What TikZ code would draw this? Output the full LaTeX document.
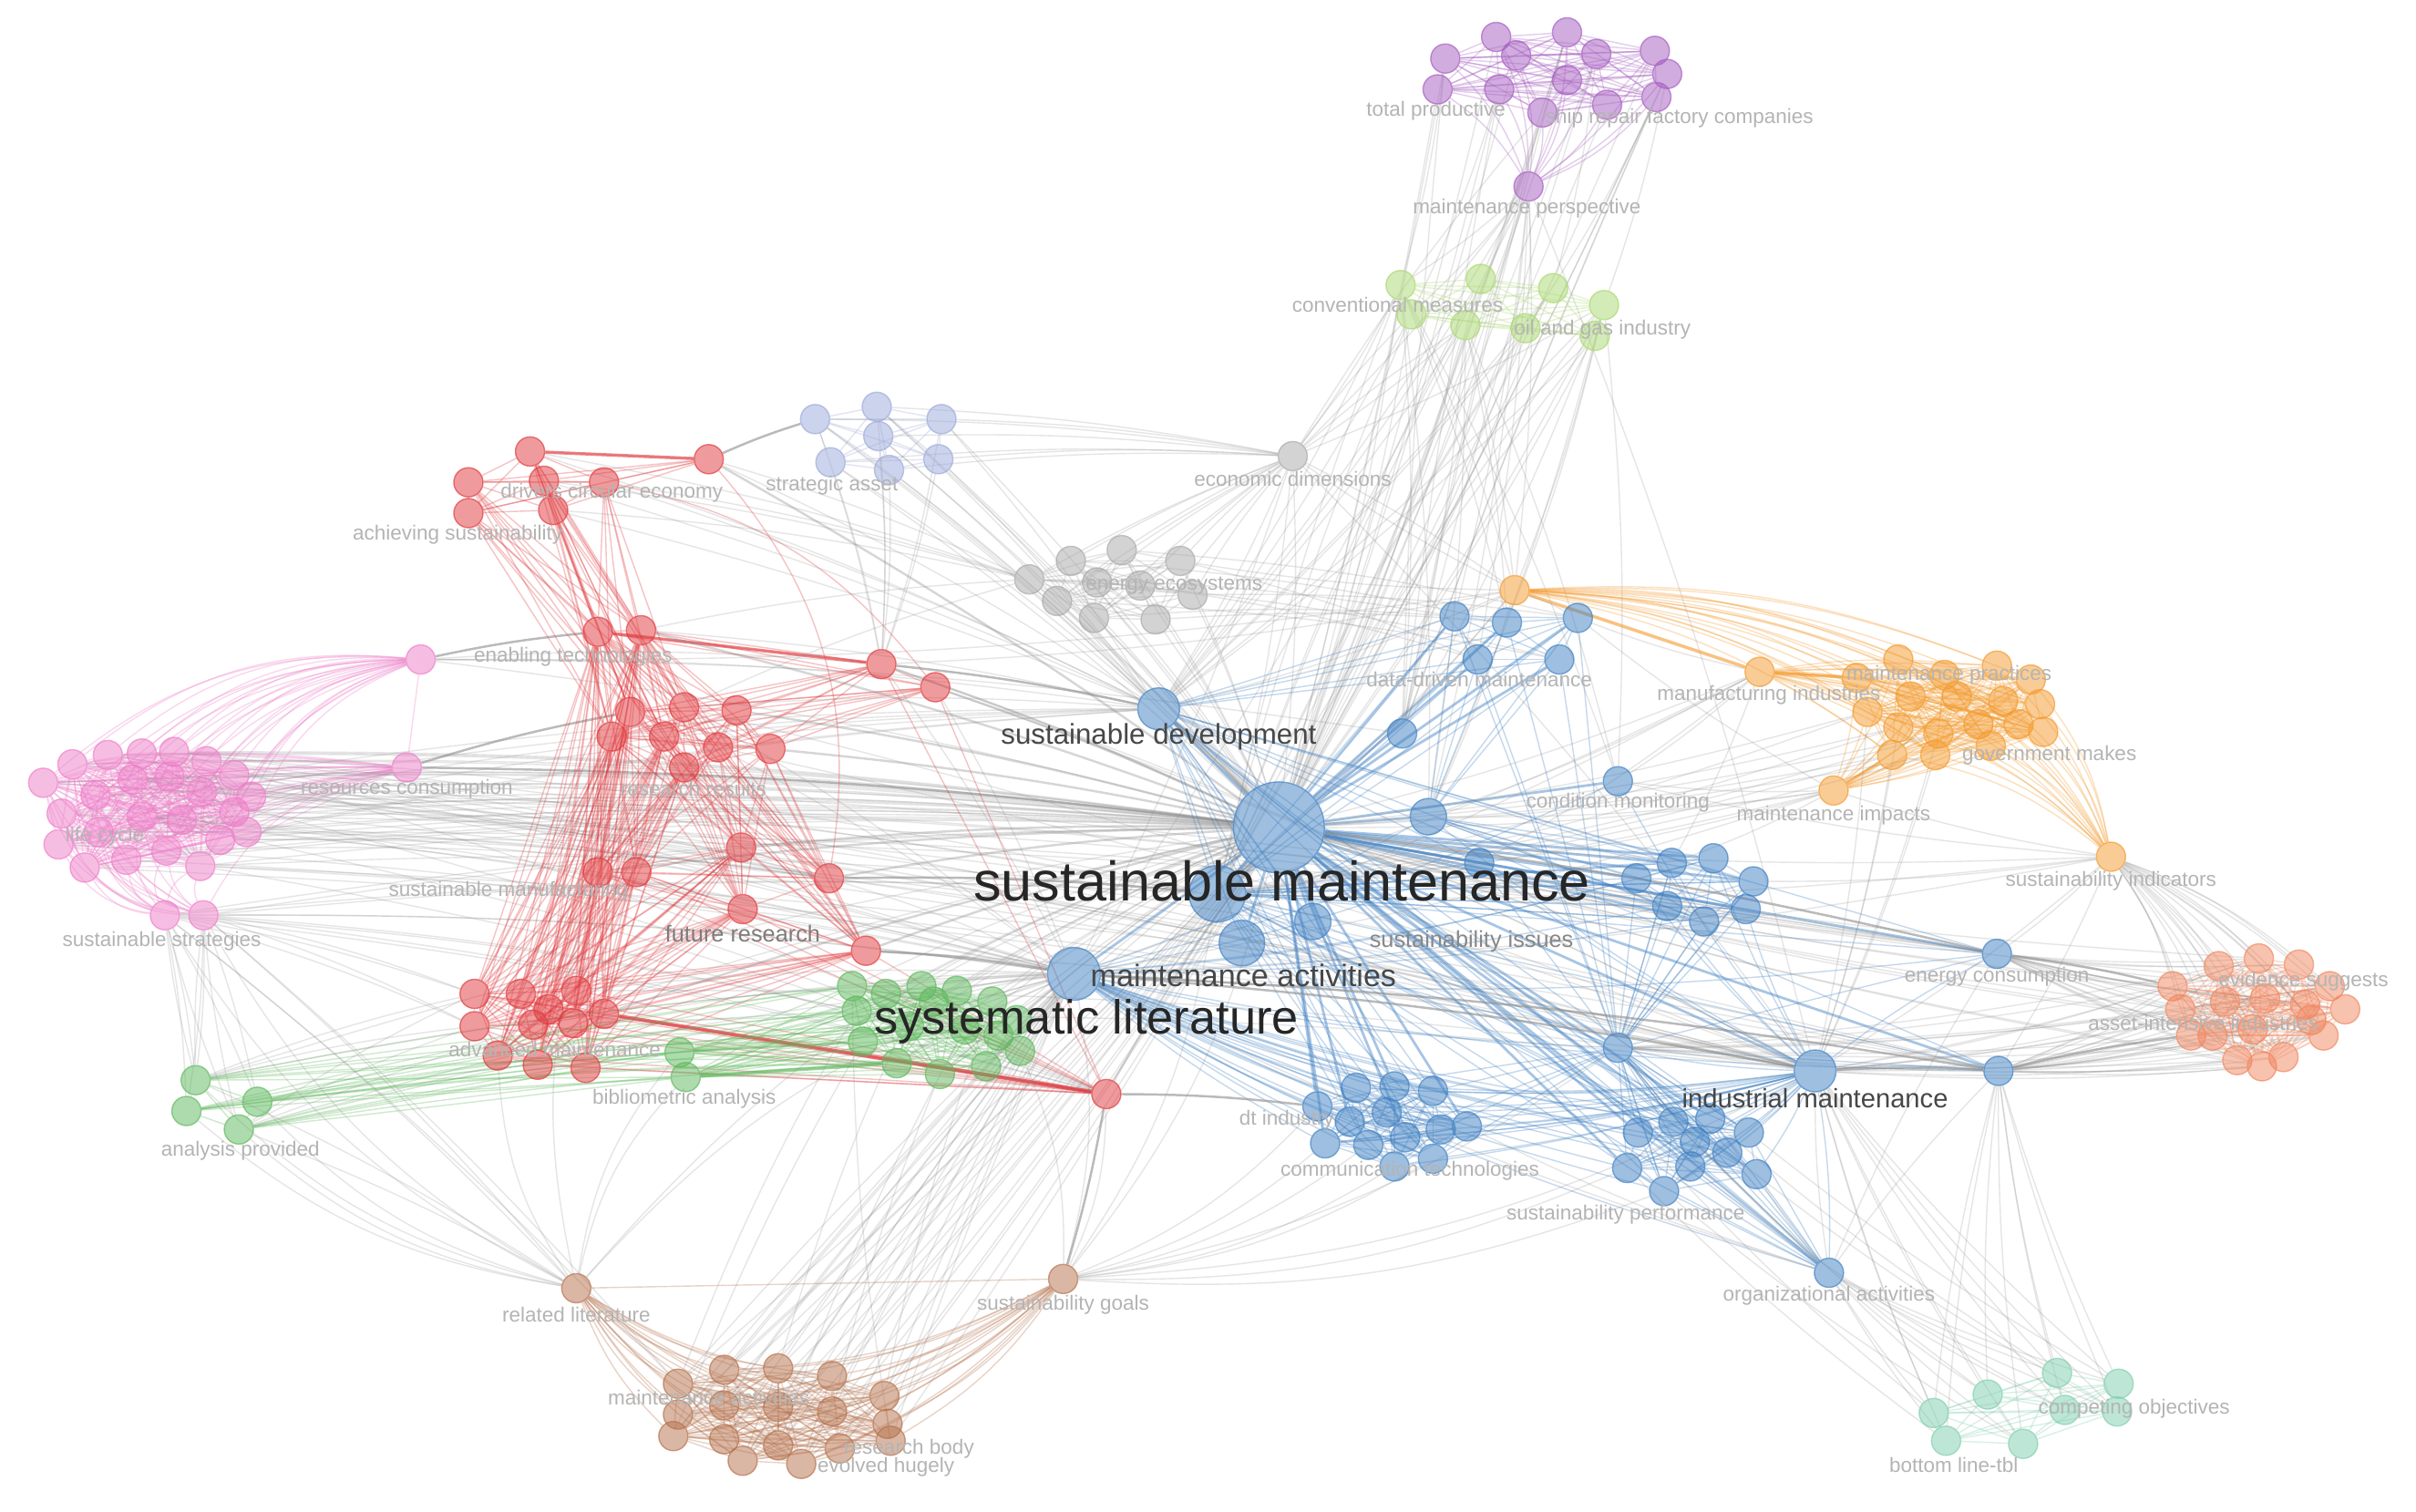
\documentclass[tikz,border=0pt]{standalone}
\usepackage{fontspec}
\setmainfont{Liberation Sans}
\pgfdeclarelayer{bg}
\pgfsetlayers{bg,main}
\definecolor{cBlue}{HTML}{3F80C2}
\definecolor{cOrange}{HTML}{F49A2C}
\definecolor{cGreen}{HTML}{5DB85C}
\definecolor{cRed}{HTML}{E0383C}
\definecolor{cPurple}{HTML}{A55BC0}
\definecolor{cBrown}{HTML}{B5704A}
\definecolor{cPink}{HTML}{EE7DC8}
\definecolor{cGreyN}{HTML}{A8A8A8}
\definecolor{cLime}{HTML}{A9D86E}
\definecolor{cLav}{HTML}{9BA9DA}
\definecolor{cCoral}{HTML}{F0865E}
\definecolor{cTeal}{HTML}{7FCFAE}
\definecolor{cEdge}{HTML}{8C8C8C}
\definecolor{cLab}{HTML}{B4B4B4}
\definecolor{cBig}{HTML}{262626}
\newcommand\mkclique[3]{\foreach \i in {1,...,#2}{\foreach \j in {1,...,#2}{\ifnum\i<\j \draw[#3] (#1\i) to (#1\j);\fi}}}
\tikzset{
  v/.style={circle, inner sep=0pt, minimum size=0.32cm, fill=#1, fill opacity=0.5, draw=#1, draw opacity=0.65, line width=0.4pt},
  ge/.style={draw=cEdge, opacity=0.22, line width=0.4pt, bend left=4},
  gd/.style={draw=cEdge, opacity=0.6, line width=0.7pt, bend left=3},
  ce/.style={draw=#1, opacity=0.3, line width=0.4pt},
  lab/.style={text=cLab, font=\fontsize{6.4}{7}\selectfont, inner sep=0pt},
  mid/.style={text=cBig!85, inner sep=0pt},
}
\begin{document}
\begin{tikzpicture}[x=0.016907cm, y=-0.016907cm]
\useasboundingbox (0,0) rectangle (1568,981);

% ---------------- nodes ----------------
\foreach \n/\x/\y in {pu1/938/38, pu2/971/24, pu3/1017/21, pu4/984/36, pu5/1036/35, pu6/1074/33, pu7/1082/48, pu8/933/58, pu9/973/58, pu10/1017/52, pu11/1001/73, pu12/1043/68, pu13/1075/63, puP/992/121}
  \node[v=cPurple] (\n) at (\x,\y) {};
\foreach \n/\x/\y in {lg1/909/185, lg2/961/181, lg3/1008/187, lg4/1041/198, lg5/916/204, lg6/951/211, lg7/990/213, lg8/1035/218}
  \node[v=cLime] (\n) at (\x,\y) {};
\foreach \n/\x/\y in {lv1/529/272, lv2/569/264, lv3/611/272, lv4/539/300, lv5/570/283, lv6/577/305, lv7/609/298}
  \node[v=cLav] (\n) at (\x,\y) {};
\foreach \n/\x/\y in {gy1/668/376, gy2/695/364, gy3/728/357, gy4/766/364, gy5/686/390, gy6/710/401, gy7/750/402, gy8/774/386, gy9/740/380, gy10/712/378, gyE/839/296}
  \node[v=cGreyN] (\n) at (\x,\y) {};
\foreach \n/\x/\y in {rt1/344/293, rt2/304/313, rt3/353/312, rt4/392/313, rt5/304/333, rt6/359/331, rtA/460/298,
  rm1/388/410, rm2/416/409, rm3/572/431, rm4/607/446, rm5/409/462, rm6/444/459, rm7/478/461, rm8/397/478, rm9/431/478, rm10/466/485, rm11/500/486, rm12/444/498,
  rl1/388/566, rl2/413/566, rl3/481/550, rl4/538/570, rl5/482/590, rl6/562/617,
  rb1/308/645, rb2/338/645, rb3/374/643, rb4/392/658, rb5/308/666, rb6/346/665, rb7/372/664, rb8/323/685, rb9/349/691, rb10/380/693, rb11/356/655, rX/718/710}
  \node[v=cRed] (\n) at (\x,\y) {};
\foreach \n/\x/\y in {pk1/28/508, pk2/47/496, pk3/70/490, pk4/92/489, pk5/113/488, pk6/134/494, pk7/152/503, pk8/163/517, pk9/40/528, pk10/62/516, pk11/86/506, pk12/110/504, pk13/131/514, pk14/152/527, pk15/38/548, pk16/64/540, pk17/92/530, pk18/118/532, pk19/143/545, pk20/55/563, pk21/82/558, pk22/108/552, pk23/130/562, pk24/160/540, pkA/273/428, pkB/264/498, pkC/107/594, pkD/132/594}
  \node[v=cPink] (\n) at (\x,\y) {};
\foreach \n/\x/\y in {gr1/556/656, gr2/575/645, gr3/598/640, gr4/621/643, gr5/644/650, gr6/660/662, gr7/662/682, gr8/640/692, gr9/610/697, gr10/582/690, gr11/560/676, gr12/590/666, gr13/626/668, gr14/606/650, gr15/553/640, gr16/648/672, grA/441/683, grB/445/699, gl1/127/701, gl2/121/721, gl3/167/715, gl4/155/733}
  \node[v=cGreen] (\n) at (\x,\y) {};
\foreach \n/\x/\y in {bw1/440/898, bw2/470/889, bw3/505/888, bw4/540/893, bw5/574/906, bw6/440/918, bw7/470/912, bw8/505/913, bw9/540/916, bw10/576/924, bw11/437/932, bw12/470/934, bw13/505/938, bw14/545/940, bw15/578/935, bw16/482/948, bw17/520/950, bwR/374/836, bwG/690/830}
  \node[v=cBrown] (\n) at (\x,\y) {};
\foreach \n/\x/\y in {oc1/1205/440, oc2/1232/428, oc3/1262/438, oc4/1296/432, oc5/1318/441, oc6/1212/462, oc7/1240/452, oc8/1270/452, oc9/1300/455, oc10/1324/457, oc11/1232/472, oc12/1258/476, oc13/1284/470, oc14/1310/470, oc15/1326/475, oc16/1228/490, oc17/1256/490, oc18/1292/484, oA/983/383, oM/1142/436, oI/1190/513, oS/1370/556}
  \node[v=cOrange] (\n) at (\x,\y) {};
\foreach \n/\x/\y in {co1/1410/640, co2/1440/627, co3/1466/622, co4/1492/626, co5/1512/640, co6/1522/655, co7/1508/672, co8/1482/686, co9/1452/688, co10/1422/672, co11/1415/655, co12/1444/650, co13/1470/648, co14/1496/652, co15/1462/668, co16/1436/672, co17/1468/692, co18/1500/662}
  \node[v=cCoral] (\n) at (\x,\y) {};
\foreach \n/\x/\y in {te1/1255/917, te2/1290/905, te3/1335/891, te4/1375/898, te5/1263/935, te6/1313/937, te7/1340/915, te8/1374/916}
  \node[v=cTeal] (\n) at (\x,\y) {};
\foreach \n/\x/\y in {bu1/944/400, bu2/978/404, bu3/1024/401, bu4/959/428, bu5/1012/428,
  br1/1062/570, br2/1085/560, br3/1112/557, br4/1138/572, br5/1082/588, br6/1106/598, br7/1133/590,
  ba1/855/718, ba2/880/706, ba3/905/705, ba4/930/708, ba5/860/742, ba6/888/743, ba7/912/738, ba8/935/733, ba9/952/731, ba10/930/752, ba11/905/757, ba12/876/728, ba13/900/722,
  bb1/1063/735, bb2/1086/728, bb3/1110/726, bb4/1135/735, bb5/1056/758, bb6/1080/773, bb7/1097/757, bb8/1121/748, bb9/1140/762, bb10/1100/741,
  bC/910/476, bE/1050/507, bG/960/560, bH/1050/680, bEn/1296/619, bEn2/1297/695, bO/1187/826}
  \node[v=cBlue] (\n) at (\x,\y) {};
\node[v=cBlue, minimum size=0.40cm] (bD) at (927,530) {};
\node[v=cBlue, minimum size=0.40cm] (bF) at (852,598) {};
\node[v=cBlue, minimum size=0.46cm] (sd) at (752,460) {};
\node[v=cBlue, minimum size=0.46cm] (im) at (1178,695) {};
\node[v=cBlue, minimum size=0.62cm] (bA) at (790,580) {};
\node[v=cBlue, minimum size=0.50cm] (bB) at (806,612) {};
\node[v=cBlue, minimum size=0.58cm] (ma) at (697,632) {};
\node[v=cBlue, minimum size=1.0cm] (sm) at (830,537) {};

% ---------------- edges ----------------
\begin{pgfonlayer}{bg}
\fill[white] (0,0) rectangle (1568,981);
% pink
\mkclique{pk}{24}{ce=cPink}
\foreach \i in {1,...,24}{\draw[ce=cPink, bend left=22] (pk\i) to (pkA); \draw[ce=cPink, bend left=3] (pk\i) to (pkB);}
\foreach \i in {1,2,9,10,15,16,17,20,21,22,23}{\draw[ce=cPink, bend right=25] (pk\i) to (pkC); \draw[ce=cPink, bend right=20] (pk\i) to (pkD);}
\draw[ce=cPink] (pkA) to (pkB); \draw[ce=cPink, bend right=25] (pkB) to (pkD);
\foreach \i in {1,...,24}{\draw[ge] (pk\i) to (sm);}
\foreach \i in {3,6,...,24}{\draw[ge] (pk\i) to (ma);}
\foreach \i in {2,5,...,23}{\draw[ge] (pk\i) to (im);}
\foreach \i in {1,4,...,22}{\draw[ge] (pk\i) to (rl4);}
\foreach \i in {7,8,13,14,19,24}{\draw[ge] (pk\i) to (sd); \draw[ge] (pk\i) to (bEn);}
\foreach \i in {5,11,17,23}{\draw[ge] (pk\i) to (bA); \draw[ge] (pk\i) to (rX); \draw[ge] (pk\i) to (bEn2);}
\foreach \t in {ma,sm,rb1,rb5,gr1,bw1,bwR,gl1,gl2,gl3,bA,rX}{\draw[ge] (pkC) to (\t); \draw[ge] (pkD) to (\t);}
\draw[gd] (pkA) to (rm1); \draw[gd] (pkB) to (sm); \draw[gd] (pkB) to (rm5);
\foreach \t in {rm3,sd,sm,bC}{\draw[ge] (pkA) to (\t);}
% red
\mkclique{rt}{6}{ce=cRed}
\foreach \i in {1,...,6}{\draw[ce=cRed] (rt\i) to (rtA); \foreach \j in {1,2,5,6,8,9}{\draw[ce=cRed] (rt\i) to (rm\j);}}
\mkclique{rm}{12}{ce=cRed}
\mkclique{rl}{6}{ce=cRed}
\mkclique{rb}{11}{ce=cRed}
\foreach \i in {1,2,5,6,7,8,9,10,11,12}{\foreach \j in {1,...,6}{\draw[ce=cRed] (rm\i) to (rl\j);}}
\foreach \i in {1,...,11}{\foreach \j in {1,2,3,5,6}{\draw[ce=cRed] (rb\i) to (rl\j);} \foreach \j in {1,2,5,8,9,12}{\draw[ce=cRed] (rb\i) to (rm\j);} \draw[ce=cRed] (rb\i) to (rX);}
\foreach \t in {rl1,rl2,rl5,rl6,rm3,rm4}{\draw[ce=cRed] (\t) to (rX);}
\draw[ce=cRed, line width=1.2pt, opacity=0.7] (rb4) to (rX);
\draw[ce=cRed, line width=1pt, opacity=0.6] (rm1) to (rm3);
\draw[ce=cRed, line width=1pt, opacity=0.6] (rt1) to (rtA);
\draw[ce=cRed, bend left=25] (rtA) to (rl4);
\draw[ce=cRed, bend left=20] (rt4) to (rm4);
\foreach \t in {rm3,rm4,rl3,rl4,rl6,rm7,rm11,rm2,rl1,rb4,rX,rtA}{\draw[gd, opacity=0.35] (\t) to (sm);}
\foreach \t in {rm3,rm4,rl4,rl6,rm6,rm10,rb3,rb7}{\draw[ge] (\t) to (ma); \draw[ge] (\t) to (im);}
\foreach \t in {rt1,rt3,rt4,rt6,rtA,rm2,rm6}{\draw[ge] (\t) to (sd); \draw[ge] (\t) to (gy1);}
\draw[gd] (rtA) to (lv1); \draw[gd] (rl4) to (bA); \draw[gd] (rl6) to (ma); \draw[gd] (rX) to (bwG);
% lavender & grey cluster
\mkclique{lv}{7}{ce=cLav}
\foreach \i in {1,...,7}{\draw[ge] (lv\i) to (sd); \draw[ge] (lv\i) to (sm); \draw[ge] (lv\i) to (gyE); \draw[ge] (lv\i) to (rm3);}
\mkclique{gy}{10}{ce=cGreyN}
\foreach \i/\k in {1/1,2/2,3/3,4/4,5/5,6/1,7/2,8/3,9/4,10/5}{\draw[ge] (gy\i) to (sm); \draw[ge] (gy\i) to (gyE); \draw[ge] (gy\i) to (bu\k);}
\foreach \t in {sm,sd,bA,pu11,lg5,lg6,oA,ma,im}{\draw[ge] (gyE) to (\t);}
% purple & lime
\mkclique{pu}{13}{ce=cPurple}
\foreach \i in {1,...,13}{\draw[ce=cPurple, bend left=12] (pu\i) to (puP); \draw[ge, bend left=2] (pu\i) to (sm);}
\foreach \i/\k in {1/1,3/2,5/3,7/4,9/5,11/6,13/7}{\draw[ge, bend right=2] (pu\i) to (bC); \draw[ge] (pu\i) to (lg\k);}
\foreach \t in {sm,sd,bA,bD,lg1,lg5,lg7,oA,gyE,bu1,bu4,ma,im}{\draw[ge] (puP) to (\t);}
\mkclique{lg}{8}{ce=cLime}
\foreach \i in {1,...,8}{\draw[ge] (lg\i) to (sm); \draw[ge] (lg\i) to (sd); \draw[ge, bend right=4] (lg\i) to (bA);}
\foreach \t in {bC,bD,oA,bu2,gyE,bE}{\draw[ge] (lg1) to (\t); \draw[ge] (lg4) to (\t); \draw[ge] (lg6) to (\t);}
% green
\mkclique{gr}{16}{ce=cGreen}
\mkclique{gl}{4}{ce=cGreen}
\foreach \i in {1,...,4}{\foreach \j in {1,10,11,12,15}{\draw[ce=cGreen, bend left=3] (gl\i) to (gr\j);} \draw[ce=cGreen] (gl\i) to (grA); \draw[ce=cGreen] (gl\i) to (grB);}
\foreach \j in {1,...,16}{\draw[ce=cGreen] (grA) to (gr\j); \draw[ce=cGreen] (grB) to (gr\j);}
\draw[ce=cGreen, line width=1pt, opacity=0.6] (grB) to (gr10);
\foreach \i in {1,...,16}{\draw[ge] (gr\i) to (sm); \draw[ge] (gr\i) to (ma);}
\foreach \t in {pkC,pkD,rb1,rb5,sm,ma,bwR}{\draw[ge] (gl1) to (\t); \draw[ge] (gl4) to (\t);}
% brown
\mkclique{bw}{17}{ce=cBrown}
\foreach \i in {1,...,17}{\draw[ce=cBrown, bend left=12] (bw\i) to (bwR); \draw[ce=cBrown, bend right=12] (bw\i) to (bwG); \draw[ge, bend left=2] (bw\i) to (ma); \draw[ge, bend right=2] (bw\i) to (sm);}
\foreach \i in {1,3,...,15}{\draw[ge] (bw\i) to (gr\i);}
\draw[ce=cBrown] (bwR) to (bwG);
\foreach \t in {gl1,gl2,gl3,gl4,pkC,pkD,rb8,grA,grB,sm,ma,rl1}{\draw[ge, bend left=15] (bwR) to (\t);}
\foreach \t in {ba1,ba5,ba6,ba10,ba11,bb5,bb6,rX,sm,ma,bA,bH,gr7,im}{\draw[ge, bend right=12] (bwG) to (\t);}
% blue
\foreach \t in {sd,ma,bA,bB,bC,bD,bE,bF,bG,bH,im,bEn,bEn2,bO,bu1,bu2,bu3,bu4,bu5,br1,br2,br3,br4,br5,br6,br7,ba1,ba3,ba5,ba7,ba9,ba12,bb1,bb3,bb5,bb7,bb9}{\draw[ce=cBlue, line width=0.8pt, opacity=0.45] (sm) to (\t);}
\foreach \t in {ba1,ba2,ba3,ba4,ba5,ba6,ba7,ba8,ba9,ba10,ba11,ba12,ba13,bb1,bb2,bb3,bb4,bb5,bb6,bb7,bb8,bb9,bb10,br1,br3,br5,br7,bEn,bEn2,bO,bH,bE,bD,bG}{\draw[ce=cBlue, bend left=5] (im) to (\t); \draw[ce=cBlue, bend right=5] (ma) to (\t);}
\foreach \t in {ba2,ba4,ba6,ba8,ba10,bb2,bb4,bb6,bb8,bb10,br2,br4,br6,bEn,bEn2,bO,bF,bB,bA,bG}{\draw[ce=cBlue] (bH) to (\t); \draw[ce=cBlue] (bA) to (\t); \draw[ce=cBlue] (sd) to (\t);}
\mkclique{bu}{5}{ce=cBlue}
\mkclique{br}{7}{ce=cBlue}
\mkclique{ba}{13}{ce=cBlue}
\mkclique{bb}{10}{ce=cBlue}
\foreach \i in {1,...,5}{\draw[ce=cBlue] (bu\i) to (sd); \draw[ce=cBlue] (bu\i) to (bD); \draw[ce=cBlue] (bu\i) to (bH); \draw[ce=cBlue] (bu\i) to (bA);}
\foreach \i in {1,...,7}{\draw[ce=cBlue] (br\i) to (bD); \draw[ce=cBlue] (br\i) to (bA); \draw[ce=cBlue] (br\i) to (bH);}
\foreach \i in {1,...,10}{\draw[ce=cBlue] (bb\i) to (bO); \draw[ce=cBlue] (bb\i) to (bH);}
\draw[gd] (sm) to (bEn); \draw[gd] (ma) to (im); \draw[gd] (im) to (bEn2); \draw[gd] (sd) to (sm); \draw[gd] (ma) to (bEn2);
\draw[gd] (rX) to (ba1); \draw[gd] (rm3) to (sd);
% orange
\mkclique{oc}{18}{ce=cOrange}
\foreach \i in {1,...,18}{\draw[ce=cOrange, bend right=12] (oc\i) to (oA); \draw[ce=cOrange, bend right=4] (oc\i) to (oM); \draw[ce=cOrange, bend left=6] (oc\i) to (oI); \draw[ce=cOrange, bend left=14] (oc\i) to (oS);}
\draw[ce=cOrange, line width=1pt, opacity=0.6] (oA) to (oM); \draw[ce=cOrange, line width=1pt, opacity=0.6] (oM) to (oc1);
\draw[ce=cOrange, line width=1pt, opacity=0.6] (oI) to (oc16);
\foreach \t in {sm,sd,bu1,bu2,bu3,bA,bD,gyE,gy4,rm3,pkA}{\draw[ge] (oA) to (\t);}
\foreach \t in {sm,bA,bD,bE,bG,br2,bu3,ma}{\draw[ge] (oM) to (\t); \draw[ge] (oI) to (\t);}
\foreach \i in {6,11,16,17,12}{\draw[ge] (oc\i) to (sm); \draw[ge] (oc\i) to (bA); \draw[ge] (oc\i) to (im);}
% coral
\mkclique{co}{18}{ce=cCoral}
\foreach \i in {1,...,18}{\draw[ge, bend right=10] (co\i) to (oS); \draw[ge] (co\i) to (bEn); \draw[ge] (co\i) to (bEn2);}
\foreach \i in {1,3,...,17}{\draw[ge] (co\i) to (im); \draw[ge] (co\i) to (sm); \draw[ge] (co\i) to (bH);}
\foreach \t in {sm,im,bA,bEn,bEn2,br4,bE,oI,ma}{\draw[ge] (oS) to (\t);}
\draw[gd] (bEn) to (co1); \draw[gd] (bEn2) to (co10);
% teal
\mkclique{te}{8}{ce=cTeal}
\foreach \i in {1,...,8}{\draw[ge] (te\i) to (bO); \draw[ge] (te\i) to (im); \draw[ge] (te\i) to (bb\i); \draw[ge] (te\i) to (bEn2);}
\foreach \t in {ba9,bb9,im,bH,bEn,bEn2,ma}{\draw[ge] (bO) to (\t);}
\end{pgfonlayer}

% ---------------- labels ----------------
\node[lab] (t1) at (932,72) {total productive};
\node[lab] (t2) at (1090,77) {ship repair factory companies};
\node[lab] (t3) at (991,135) {maintenance perspective};
\node[lab] (t4) at (907,198) {conventional measures};
\node[lab] (t5) at (1040,214) {oil and gas industry};
\node[lab] (t6) at (839,311) {economic dimensions};
\node[lab] (t7) at (540,315) {strategic asset};
\node[lab] (t8) at (297,347) {achieving sustainability};
\node[lab] (t9) at (397,320) {drivers circular economy};
\node[lab] (t10) at (762,380) {energy ecosystems};
\node[lab] (t11) at (372,426) {enabling technologies};
\node[lab] (t12) at (960,441) {data-driven maintenance};
\node[lab] (t13) at (1148,451) {manufacturing industries};
\node[lab] (t14) at (1265,438) {maintenance practices};
\node[lab] (t15) at (1330,490) {government makes};
\node[lab] (t16) at (264,512) {resources consumption};
\node[lab] (t17) at (68,543) {life cycle};
\node[lab] (t18) at (1190,529) {maintenance impacts};
\node[lab] (t19) at (1370,572) {sustainability indicators};
\node[lab] (t20) at (105,611) {sustainable strategies};
\node[lab, text=cBig!60, font=\fontsize{7.2}{8}\selectfont] (t21) at (482,606) {future research};
\node[lab, text=cBig!55, font=\fontsize{7.2}{8}\selectfont] (t22) at (955,611) {sustainability issues};
\node[lab] (t23) at (1296,634) {energy consumption};
\node[lab] (t24) at (1495,637) {evidence suggests};
\node[lab] (t25) at (1430,664) {asset-intensive industries};
\node[lab] (t26) at (360,681) {advanced maintenance};
\node[lab] (t27) at (444,713) {bibliometric analysis};
\node[lab] (t28) at (156,747) {analysis provided};
\node[lab] (t29) at (915,760) {communication technologies};
\node[lab] (t30) at (1055,788) {sustainability performance};
\node[lab] (t31) at (1187,841) {organizational activities};
\node[lab] (t32) at (374,853) {related literature};
\node[lab] (t33) at (690,847) {sustainability goals};
\node[lab] (t34) at (460,907) {maintenance activities};
\node[lab] (t35) at (590,940) {research body};
\node[lab] (t36) at (575,952) {evolved hugely};
\node[lab] (t37) at (1385,914) {competing objectives};
\node[lab] (t38) at (1268,951) {bottom line-tbl};
\node[lab] (t39) at (1050,521) {condition monitoring};
\node[lab] (t40) at (450,512) {research results};
\node[lab] (t41) at (330,578) {sustainable manufacturing};
\node[lab] (t42) at (835,727) {dt industry};
\node[mid, font=\fontsize{8.9}{10}\selectfont] (L1) at (752,478) {sustainable development};
\node[mid, text=cBig, font=\fontsize{17.4}{19}\selectfont] (L2) at (832,572) {sustainable maintenance};
\node[mid, font=\fontsize{9.7}{11}\selectfont] (L3) at (807,633) {maintenance activities};
\node[mid, text=cBig, font=\fontsize{14.9}{17}\selectfont] (L4) at (705,663) {systematic literature};
\node[mid, font=\fontsize{8.3}{9}\selectfont] (L5) at (1178,713) {industrial maintenance};
\end{tikzpicture}
\end{document}
